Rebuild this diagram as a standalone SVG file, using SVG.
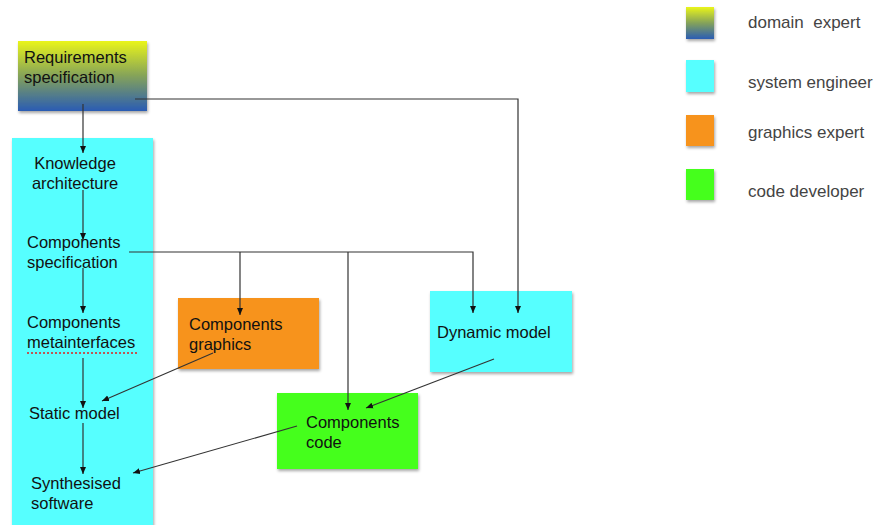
<svg xmlns="http://www.w3.org/2000/svg" width="875" height="525" viewBox="0 0 875 525">
<style>
  text { font-family: "Liberation Sans", Arial, sans-serif; font-size: 16.5px; fill: #111; }
  .legend { fill: #444; font-size: 17px; white-space: pre; }
  .conn { fill: none; stroke: #333; stroke-width: 1.2; }
  .cyan { fill: #57ffff; }
  .orange { fill: #f7931e; }
  .green { fill: #44ff1c; }
  .grad { fill: url(#domainGrad); }
</style>
<defs>
  <linearGradient id="domainGrad" x1="0" y1="0" x2="0" y2="1">
    <stop offset="0" stop-color="#eaf51a"/>
    <stop offset="0.5" stop-color="#84a25a"/>
    <stop offset="1" stop-color="#2a5cb4"/>
  </linearGradient>
  <filter id="shadow" x="-10%" y="-10%" width="130%" height="130%">
    <feDropShadow dx="1" dy="2" stdDeviation="1.5" flood-color="#000" flood-opacity="0.35"/>
  </filter>
  <marker id="arrow" markerWidth="8" markerHeight="8" refX="7" refY="4" orient="auto" markerUnits="userSpaceOnUse">
    <path d="M0,1 L7,4 L0,7 Z" fill="#111"/>
  </marker>
</defs>

<g id="legend">
  <rect class="grad" x="686" y="7" width="28" height="32" filter="url(#shadow)"/>
  <text class="legend" x="748" y="28">domain  expert</text>
  <rect class="cyan" x="686" y="60" width="28" height="32" filter="url(#shadow)"/>
  <text class="legend" x="748" y="88">system engineer</text>
  <rect class="orange" x="686" y="115" width="28" height="31" filter="url(#shadow)"/>
  <text class="legend" x="748" y="138">graphics expert</text>
  <rect class="green" x="686" y="169" width="28" height="31" filter="url(#shadow)"/>
  <text class="legend" x="748" y="197">code developer</text>
</g>

<g id="requirements">
  <rect class="grad" x="18" y="41" width="129" height="70" filter="url(#shadow)"/>
  <text x="24" y="63">Requirements</text>
  <text x="24" y="83">specification</text>
</g>

<g id="system-column">
  <rect class="cyan" x="12" y="138" width="141" height="395" filter="url(#shadow)"/>
</g>

<g id="knowledge-architecture">
  <text x="75" y="169" text-anchor="middle">Knowledge</text>
  <text x="75" y="189" text-anchor="middle">architecture</text>
</g>
<g id="components-specification">
  <text x="27" y="248">Components</text>
  <text x="27" y="268">specification</text>
</g>
<g id="components-metainterfaces">
  <text x="27" y="328">Components</text>
  <text x="27" y="348">metainterfaces</text>
  <line x1="27" y1="353" x2="138" y2="353" stroke="#e02020" stroke-width="1.4" stroke-dasharray="2,2"/>
</g>
<g id="static-model">
  <text x="29" y="419">Static model</text>
</g>
<g id="synthesised-software">
  <text x="31" y="489">Synthesised</text>
  <text x="31" y="509">software</text>
</g>

<g id="components-graphics">
  <rect class="orange" x="178" y="298" width="141" height="71" filter="url(#shadow)"/>
  <text x="189" y="330">Components</text>
  <text x="189" y="350">graphics</text>
</g>

<g id="dynamic-model">
  <rect class="cyan" x="430" y="291" width="142" height="81" filter="url(#shadow)"/>
  <text x="437" y="338">Dynamic model</text>
</g>

<g id="components-code">
  <rect class="green" x="277" y="393" width="141" height="76" filter="url(#shadow)"/>
  <text x="306" y="428">Components</text>
  <text x="306" y="448">code</text>
</g>

<g id="connectors">
  <line class="conn" x1="83" y1="104" x2="83" y2="153" marker-end="url(#arrow)"/>
  <line class="conn" x1="83" y1="190" x2="83" y2="240" marker-end="url(#arrow)"/>
  <line class="conn" x1="83" y1="268" x2="83" y2="313" marker-end="url(#arrow)"/>
  <line class="conn" x1="83" y1="358" x2="83" y2="408" marker-end="url(#arrow)"/>
  <line class="conn" x1="83" y1="423" x2="83" y2="474" marker-end="url(#arrow)"/>
  <polyline class="conn" points="135,99 518,99 518,313" marker-end="url(#arrow)"/>
  <polyline class="conn" points="129,252 473,252 473,313" marker-end="url(#arrow)"/>
  <line class="conn" x1="240" y1="252" x2="240" y2="315" marker-end="url(#arrow)"/>
  <line class="conn" x1="348" y1="252" x2="348" y2="410" marker-end="url(#arrow)"/>
  <line class="conn" x1="213" y1="353" x2="102" y2="401" marker-end="url(#arrow)"/>
  <line class="conn" x1="297" y1="426" x2="133" y2="473" marker-end="url(#arrow)"/>
  <line class="conn" x1="494" y1="359" x2="366" y2="408" marker-end="url(#arrow)"/>
</g>
</svg>
